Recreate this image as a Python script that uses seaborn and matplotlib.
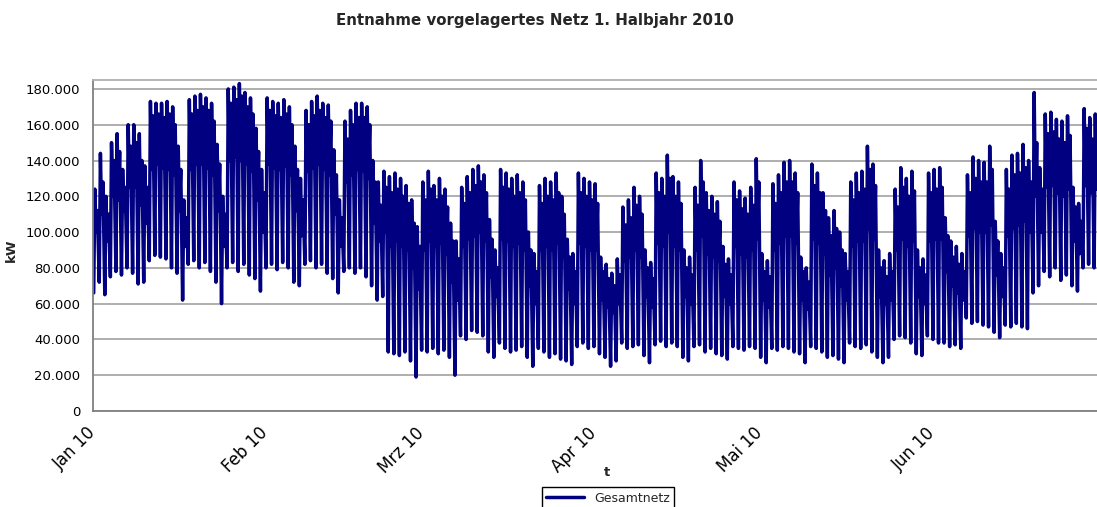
import numpy as np
import pandas as pd
import matplotlib
matplotlib.use("Agg")
import matplotlib.pyplot as plt
import matplotlib.transforms as mtransforms
from matplotlib.ticker import FuncFormatter
import seaborn as sns

# load per day in thousand kW, Jan 1 .. Jun 30 2010
# night low
daily_min = [
    66, 72, 65,
    75, 78, 76, 80, 77, 71, 72,
    84, 87, 86, 85, 80, 77, 62,
    82, 84, 80, 83, 78, 72, 60,
    80, 83, 78, 82, 76, 74, 67,
    80, 82, 79, 83, 80, 72, 70,
    82, 84, 80, 82, 77, 74, 66,
    78, 80, 77, 80, 75, 70, 62,
    64, 33, 32, 31, 33, 28, 19,
    34, 33, 35, 32, 34, 30, 20,
    42, 40, 45, 44, 42, 33, 30,
    38, 35, 33, 34, 36, 30, 25,
    35, 33, 30, 32, 29, 28, 26,
    36, 38, 35, 36, 32, 30, 25,
    28, 38, 35, 36, 37, 31, 27,
    37, 39, 36, 38, 36, 30, 28,
    36, 37, 33, 35, 32, 31, 29,
    36, 35, 34, 36, 35, 30, 27,
    35, 34, 36, 35, 33, 32, 27,
    36, 35, 33, 30, 31, 29, 27,
    38, 36, 35, 37, 33, 30, 27,
    30, 40, 42, 41, 38, 32, 31,
    42, 40, 38, 38, 36, 37, 35,
    52, 49, 50, 48, 47, 44, 41,
    48, 47, 49, 47, 46, 66, 70,
    78, 75, 80, 73, 76, 70, 67,
    80, 82, 80,
]
# morning peak
daily_max = [
    124, 144, 120,
    150, 155, 135, 160, 160, 155, 137,
    173, 172, 172, 173, 170, 148, 118,
    174, 176, 177, 175, 172, 149, 120,
    180, 181, 183, 178, 175, 158, 135,
    175, 173, 172, 174, 170, 148, 130,
    168, 173, 176, 172, 171, 146, 118,
    162, 168, 172, 172, 170, 140, 128,
    134, 131, 133, 130, 126, 118, 103,
    128, 134, 126, 130, 124, 105, 95,
    125, 131, 135, 137, 132, 107, 90,
    135, 133, 130, 132, 128, 100, 88,
    126, 130, 128, 133, 120, 96, 88,
    133, 130, 128, 127, 86, 82, 77,
    85, 114, 118, 125, 120, 90, 83,
    133, 130, 143, 131, 128, 90, 86,
    125, 140, 122, 120, 117, 92, 85,
    128, 123, 119, 125, 141, 88, 84,
    127, 132, 139, 140, 133, 86, 80,
    138, 133, 122, 108, 112, 100, 88,
    128, 133, 134, 148, 138, 90, 84,
    88, 124, 136, 130, 134, 90, 85,
    133, 135, 136, 108, 95, 92, 88,
    132, 142, 140, 139, 148, 106, 88,
    135, 143, 144, 149, 140, 178, 136,
    166, 167, 163, 162, 165, 125, 116,
    169, 164, 166,
]
# afternoon dip
daily_dip = [
    100, 110, 95,
    120, 118, 112, 125, 125, 115, 105,
    135, 138, 136, 135, 132, 112, 92,
    135, 138, 138, 136, 132, 112, 92,
    140, 142, 140, 138, 134, 118, 100,
    138, 136, 135, 137, 132, 112, 98,
    134, 136, 138, 135, 132, 110, 92,
    128, 132, 135, 134, 130, 105, 95,
    100, 92, 95, 92, 90, 80, 68,
    90, 95, 92, 94, 88, 72, 62,
    92, 96, 98, 100, 95, 75, 64,
    96, 95, 92, 94, 90, 70, 60,
    90, 92, 90, 94, 86, 68, 60,
    94, 92, 90, 90, 62, 58, 55,
    60, 84, 86, 90, 86, 64, 58,
    94, 92, 100, 92, 90, 64, 60,
    90, 98, 88, 86, 84, 64, 60,
    92, 88, 86, 90, 96, 62, 58,
    90, 94, 98, 98, 94, 62, 57,
    96, 94, 88, 76, 80, 70, 62,
    92, 95, 95, 102, 96, 64, 60,
    62, 90, 96, 92, 95, 64, 60,
    95, 96, 96, 78, 70, 66, 62,
    98, 102, 100, 100, 104, 76, 64,
    98, 102, 104, 106, 100, 120, 100,
    125, 126, 122, 120, 124, 95, 88,
    126, 122, 124,
]
# evening peak
daily_peak2 = [
    112, 128, 110,
    140, 145, 125, 148, 150, 140, 125,
    165, 166, 164, 166, 160, 135, 108,
    166, 168, 170, 168, 162, 138, 110,
    172, 174, 176, 170, 166, 145, 122,
    168, 165, 164, 166, 160, 135, 118,
    160, 165, 168, 164, 162, 132, 108,
    152, 160, 164, 164, 160, 128, 115,
    125, 122, 124, 120, 116, 105, 92,
    118, 124, 118, 120, 114, 95, 85,
    116, 122, 126, 128, 122, 96, 80,
    125, 124, 120, 122, 118, 90, 78,
    116, 120, 118, 122, 110, 86, 78,
    122, 120, 118, 116, 78, 74, 70,
    76, 104, 108, 115, 110, 80, 74,
    122, 120, 130, 120, 116, 80, 76,
    115, 128, 112, 110, 106, 82, 76,
    118, 113, 110, 115, 128, 78, 75,
    116, 122, 128, 128, 122, 78, 72,
    126, 122, 112, 98, 102, 90, 78,
    118, 122, 124, 135, 126, 80, 75,
    78, 114, 125, 120, 123, 80, 76,
    122, 124, 125, 98, 86, 82, 78,
    122, 130, 128, 128, 135, 95, 80,
    124, 132, 133, 136, 128, 150, 124,
    155, 156, 152, 150, 154, 114, 106,
    158, 152, 155,
]
month_ticks = ["2010-01-01", "2010-02-01", "2010-03-01", "2010-04-01", "2010-05-01", "2010-06-01"]
month_labels = ["Jan 10", "Feb 10", "Mrz 10", "Apr 10", "Mai 10", "Jun 10"]
y_ticks = [0, 20000, 40000, 60000, 80000, 100000, 120000, 140000, 160000, 180000]

days = pd.date_range("2010-01-01", periods=len(daily_max), freq="D")
parts = [(daily_min, 3), (daily_max, 8), (daily_dip, 13), (daily_peak2, 19)]
df = pd.concat([
    pd.DataFrame({"t": days + pd.Timedelta(hours=h), "kW": np.array(vals) * 1000})
    for vals, h in parts
]).sort_values("t").reset_index(drop=True)
df["Serie"] = "Gesamtnetz"

sns.set_style("white")
plt.rcParams["font.family"] = ["DejaVu Sans"]

fig = plt.figure(figsize=(10.97, 5.07), dpi=100)
ax = fig.add_axes([93 / 1097, 96 / 507, 1006 / 1097, 331 / 507])

sns.lineplot(data=df, x="t", y="kW", hue="Serie", palette=["#000080"],
             estimator=None, sort=False, lw=2.5, ax=ax)

# axes styled like the old Excel chart
ax.set_ylim(0, 185000)
ax.set_xlim(pd.Timestamp("2010-01-01"), pd.Timestamp("2010-07-01"))
ax.set_yticks(y_ticks)
ax.yaxis.set_major_formatter(FuncFormatter(lambda v, p: f"{v:,.0f}".replace(",", ".")))
ax.set_xticks(pd.to_datetime(month_ticks))
ax.set_xticklabels(month_labels, rotation=45, ha="right", va="center",
                   rotation_mode="anchor", fontsize=12)
shift = mtransforms.ScaledTranslation(-4 / 72, 2 / 72, fig.dpi_scale_trans)
for lbl in ax.get_xticklabels():
    lbl.set_transform(lbl.get_transform() + shift)
ax.yaxis.grid(True, color="#a8a8a8", lw=1.3)
ax.set_axisbelow(True)
for side in ["left", "bottom"]:
    ax.spines[side].set_color("#808080")
    ax.spines[side].set_linewidth(1.3)
ax.spines["top"].set_color("#b0b0b0")
ax.spines["top"].set_linewidth(1.3)
ax.spines["right"].set_visible(False)
ax.tick_params(axis="both", direction="out", length=5, width=1.2, color="#808080",
               labelcolor="black", pad=4)
ax.tick_params(axis="y", labelsize=9.5)
ax.tick_params(axis="x", pad=9)

ax.set_xlabel("t", fontweight="bold", fontsize=9.5)
ax.set_ylabel("kW", fontweight="bold", fontsize=9.5)
ax.xaxis.set_label_coords(0.511, -0.166)
ax.yaxis.set_label_coords(-0.075, 0.486)

fig.suptitle("Entnahme vorgelagertes Netz 1. Halbjahr 2010", x=0.488, y=0.975,
             fontsize=10.8, fontweight="bold")

sns.move_legend(ax, "center", bbox_to_anchor=(0.512, -0.263), title=None, frameon=True,
                fancybox=False, edgecolor="black", framealpha=1, fontsize=9,
                handlelength=3, borderpad=0.35)
ax.get_legend().get_frame().set_linewidth(1.0)

fig.savefig("out.png", dpi=100)
